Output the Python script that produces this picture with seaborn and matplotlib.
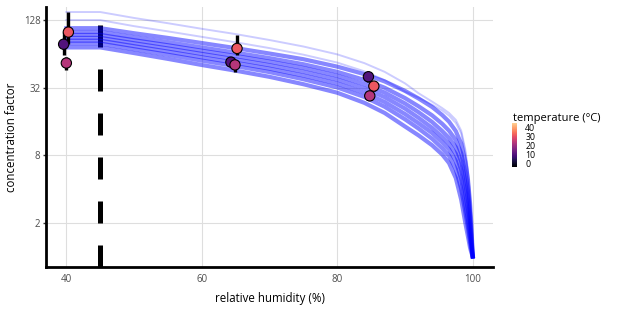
import numpy as np
import pandas as pd
import matplotlib
matplotlib.use("Agg")
import matplotlib.pyplot as plt
import seaborn as sns
from matplotlib.colors import ListedColormap, Normalize
from matplotlib.cm import ScalarMappable

# ***** model runs: concentration factor vs relative humidity ***** #
rh_grid = [40, 45, 50, 55, 60, 65, 70, 75, 80, 84, 87, 90, 92, 94, 95.5, 96.5,
           97.5, 98.3, 98.9, 99.3, 99.6, 99.8, 100]

run_a = [73, 73, 65, 57.7, 50.9, 45.3, 39.9, 34.3, 28.8, 23.4, 19.0, 14.4, 12.0, 9.8,
         8.1, 6.8, 5.0, 3.2, 2.0, 1.5, 1.2, 1.08, 1.0]
run_b = [79, 79, 70.4, 62.8, 55.7, 49.7, 44.0, 38.0, 32.1, 26.4, 21.6, 16.7, 13.8, 11.2,
         9.2, 7.9, 6.0, 4.0, 2.5, 1.8, 1.35, 1.15, 1.0]
run_c = [83.9, 83.9, 74.9, 67.0, 59.6, 53.2, 47.2, 41.0, 34.8, 28.8, 23.8, 18.6, 15.4, 12.6,
         10.4, 9.0, 7.1, 4.9, 3.0, 2.1, 1.5, 1.22, 1.0]
run_d = [88.9, 88.9, 79.6, 71.5, 63.9, 57.1, 50.7, 44.3, 37.7, 31.5, 26.3, 20.8, 17.2, 14.0,
         11.6, 10.1, 8.2, 5.9, 3.7, 2.5, 1.75, 1.32, 1.0]
run_e = [94.4, 94.4, 84.7, 76.3, 68.2, 61.2, 54.5, 47.9, 40.8, 34.3, 28.9, 23.1, 19.3, 15.8,
         13.1, 11.4, 9.4, 7.0, 4.6, 3.1, 2.05, 1.45, 1.0]
run_f = [100.2, 100.2, 90.0, 81.4, 73.0, 65.6, 58.6, 51.7, 44.2, 37.5, 31.9, 25.8, 21.8, 18.1,
         15.2, 13.2, 10.9, 8.3, 5.6, 3.8, 2.45, 1.6, 1.0]
run_g = [108.4, 108.4, 97.7, 88.7, 79.9, 72.0, 64.4, 57.3, 49.2, 42.2, 36.3, 29.9, 25.6, 21.5,
         18.2, 15.9, 13.1, 10.1, 7.0, 4.8, 3.0, 1.9, 1.0]
main_runs = [run_a, run_b, run_c, run_d, run_e, run_f, run_g]

# two faint runs sitting above the main band
run_x = [128, 128, 113, 101.5, 90.7, 81.1, 72, 62.9, 53.5, 44.7, 37.3, 29.5, 26, 22.5,
         20, 18, 15.5, 12.5, 8.5, 5.6, 3.4, 2.1, 1.0]
run_y = [151, 151, 133.7, 120, 107, 96, 85, 74.4, 63.3, 52.9, 44.2, 34.9, 28.5, 24,
         21, 19, 16.5, 13.2, 9, 5.9, 3.6, 2.2, 1.0]
faint_runs = [run_x, run_y]

# ***** measurements ***** #
obs_rh = [40.3, 39.6, 40.0, 65.2, 64.3, 64.9, 85.4, 84.6, 84.8]
obs_cf = [100, 78, 53, 71.5, 54, 51, 33, 40, 27]
obs_lo = [78, 62, 46, 62, 49, 44, 30, 36, 25]
obs_hi = [151, 100, 60, 94, 60, 56, 36, 44, 29]
obs_temp = [31, 10, 23, 31, 10, 23, 31, 10, 23]

efflorescence_rh = 45

main_df = pd.concat([pd.DataFrame({"rh": rh_grid, "cf": r, "run": i}) for i, r in enumerate(main_runs)])
faint_df = pd.concat([pd.DataFrame({"rh": rh_grid, "cf": r, "run": i}) for i, r in enumerate(faint_runs)])
obs = pd.DataFrame({"rh": obs_rh, "cf": obs_cf, "temp": obs_temp})

magma = plt.get_cmap("magma")
cmap = ListedColormap(magma(np.linspace(0, 0.9, 256)))
norm = Normalize(-4, 45)

plt.rcParams["font.family"] = ["Open Sans", "DejaVu Sans"]

fig = plt.figure(figsize=(6.17, 3.09), dpi=100)
ax = fig.add_axes([0.0746, 0.137, 0.7245, 0.839])

ylo, yhi = 0.81, 166
ax.vlines(efflorescence_rh, ylo, 116, colors="black", lw=3.6,
          linestyles=(0, (4.4, 4.4)), zorder=2)

sns.lineplot(data=faint_df, x="rh", y="cf", units="run", estimator=None, sort=False,
             color="#0000ff", alpha=0.2, lw=1.4, legend=False, ax=ax, zorder=3)
sns.lineplot(data=main_df, x="rh", y="cf", units="run", estimator=None, sort=False,
             color="#0000ff", alpha=0.47, lw=3.0, legend=False, ax=ax, zorder=3)

ax.vlines(obs_rh, obs_lo, obs_hi, colors="black", lw=2.4, zorder=4)
sns.scatterplot(data=obs, x="rh", y="cf", hue="temp", palette=cmap, hue_norm=norm,
                s=55, edgecolor="black", linewidth=0.8, legend=False, ax=ax, zorder=5)

ax.set_yscale("log", base=2)
ax.set_ylim(ylo, yhi)
ax.set_xlim(37.0, 103.0)
ax.set_yticks([2, 8, 32, 128])
ax.set_yticklabels(["2", "8", "32", "128"])
ax.yaxis.set_minor_locator(matplotlib.ticker.NullLocator())
ax.set_xticks([40, 60, 80, 100])
ax.grid(True, color="#dedede", lw=0.8)
ax.set_axisbelow(True)
for s in ["top", "right"]:
    ax.spines[s].set_visible(False)
for s in ["left", "bottom"]:
    ax.spines[s].set_linewidth(2)
    ax.spines[s].set_color("black")
ax.tick_params(axis="both", labelsize=7, labelcolor="#4d4d4d")
ax.tick_params(axis="y", length=2, width=1, color="#333333", pad=2)
ax.tick_params(axis="x", length=0, pad=5)
ax.set_xlabel("relative humidity (%)", fontsize=8.3, labelpad=5)
ax.set_ylabel("concentration factor", fontsize=8.3, labelpad=4)

cax = fig.add_axes([512 / 617, 1 - 167 / 309, 5 / 617, 44 / 309])
cb = fig.colorbar(ScalarMappable(norm=norm, cmap=cmap), cax=cax, ticks=[0, 10, 20, 30, 40])
cb.outline.set_visible(False)
cax.tick_params(length=0, labelsize=6.3, pad=6, labelcolor="black")
fig.text(513 / 617, 1 - 118 / 309, "temperature (°C)", fontsize=8, va="center")

fig.savefig("out.png", dpi=100)
